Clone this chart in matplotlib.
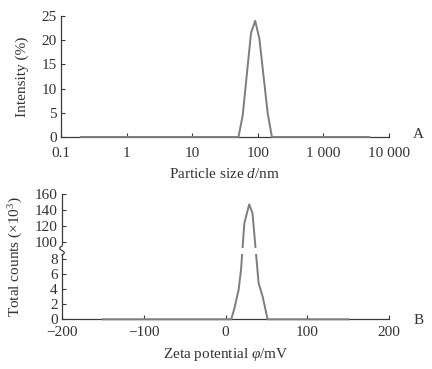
import numpy as np
import matplotlib
matplotlib.use("Agg")
import matplotlib.pyplot as plt
from matplotlib.ticker import FixedLocator, NullLocator

plt.rcParams['font.family'] = ['Liberation Serif', 'DejaVu Serif']
plt.rcParams['mathtext.fontset'] = 'custom'
plt.rcParams['mathtext.rm'] = 'Liberation Serif'
plt.rcParams['mathtext.it'] = 'Liberation Serif:italic'

# ---- Panel A data (DLS size distribution) ----
size_nm = [0.2, 50.75, 58.77, 78.82, 91.28, 105.7, 141.8, 164.2, 5000]
intensity = [0, 0, 4.4, 21.5, 24.0, 20.3, 4.8, 0, 0]
size_ticks = [0.1, 1, 10, 100, 1000, 10000]
size_ticklabels = ["0.1", "1", "10", "100", "1 000", "10 000"]
int_ticks = [0, 5, 10, 15, 20, 25]

# ---- Panel B data (zeta potential) ----
zeta_mv = [-150, 7, 11, 16, 19, 23, 29, 33, 40.5, 45.5, 51.5, 150]
counts = [0, 0, 1.5, 3.9, 6.6, 123, 147, 136, 4.8, 3.0, 0, 0]
zeta_ticks = [-200, -100, 0, 100, 200]
zeta_ticklabels = ["\u2212200", "\u2212100", "0", "100", "200"]
count_ticks = [0, 2, 4, 6, 8, 100, 120, 140, 160]

line_col = '#7d7d7d'
axis_col = '#3a3a3a'
txt_col = '#333333'
fs = 11

fig = plt.figure(figsize=(4.32, 3.69), dpi=100)

def style(ax):
    for s in ['top', 'right']:
        ax.spines[s].set_visible(False)
    for s in ['left', 'bottom']:
        ax.spines[s].set_color(axis_col)
        ax.spines[s].set_linewidth(0.9)
    ax.tick_params(direction='in', length=3, width=0.8, color=axis_col,
                   labelsize=fs, labelcolor=txt_col, pad=3)
    ax.tick_params(axis='x', pad=7)

# Panel A
axA = fig.add_axes([61/432, 1-137/369, 328/432, 121/369])
axA.set_xscale('log')
axA.plot(size_nm, intensity, color=line_col, lw=1.4, clip_on=False, zorder=3)
axA.set_xlim(0.1, 10000)
axA.set_ylim(0, 25)
axA.xaxis.set_major_locator(FixedLocator(size_ticks))
axA.xaxis.set_minor_locator(NullLocator())
axA.set_xticklabels(size_ticklabels)
axA.set_yticks(int_ticks)
style(axA)
axA.set_ylabel("Intensity (%)", fontsize=fs, color=txt_col, labelpad=9)
axA.set_xlabel("Particle size $d$/nm", fontsize=fs, color=txt_col, labelpad=5)
fig.text(418/432, 1-134/369, "A", fontsize=fs, color=txt_col, ha='center', va='center')

# Panel B with broken y axis
g = 2.31
s = 0.106
xp = np.array([0.0, 8.0, 100.0, 200.0])
fp = np.array([0.0, 8.0, 8.0 + g, 8.0 + g + 100 * s])

def fwd(y):
    return np.interp(np.asarray(y, dtype=float), xp, fp)

def inv(y):
    return np.interp(np.asarray(y, dtype=float), fp, xp)

axB = fig.add_axes([62/432, 1-319.3/369, 327/432, 125.3/369])
axB.set_yscale('function', functions=(fwd, inv))
axB.plot(zeta_mv, counts, color=line_col, lw=1.4, clip_on=False, zorder=3)
axB.set_xlim(-200, 200)
axB.set_ylim(0, 160)
axB.set_xticks(zeta_ticks)
axB.set_xticklabels(zeta_ticklabels)
axB.yaxis.set_major_locator(FixedLocator(count_ticks))
axB.yaxis.set_minor_locator(NullLocator())
axB.set_yticklabels([str(t) for t in count_ticks])
style(axB)
axB.tick_params(axis='x', pad=5)
axB.set_ylabel("Total counts (\u00d710$^3$)", fontsize=fs, color=txt_col, labelpad=7)
axB.set_xlabel("Zeta potential $\\varphi$/mV", fontsize=fs, color=txt_col, labelpad=5)
fig.text(419/432, 1-320/369, "B", fontsize=fs, color=txt_col, ha='center', va='center')

# break band over curve
axB.axhspan(inv(8.7), inv(9.5), xmin=0.3, xmax=1.0, color='white', zorder=4, lw=0)
# break mark on spine
tr = axB.get_yaxis_transform()
ybot, ytop = inv(8.55), inv(9.75)
axB.plot([-0.012, 0.012], [ybot, ytop], transform=tr, color='white', lw=4,
         clip_on=False, zorder=5, solid_capstyle='butt')
tt = np.linspace(0, 1, 30)
ys = inv(8.55 + 1.2 * tt)
xs = 0.007 * np.sin(2 * np.pi * tt)
axB.plot(xs, ys, transform=tr, color=axis_col, lw=0.9, clip_on=False, zorder=6)

fig.savefig("out.png", dpi=100)
